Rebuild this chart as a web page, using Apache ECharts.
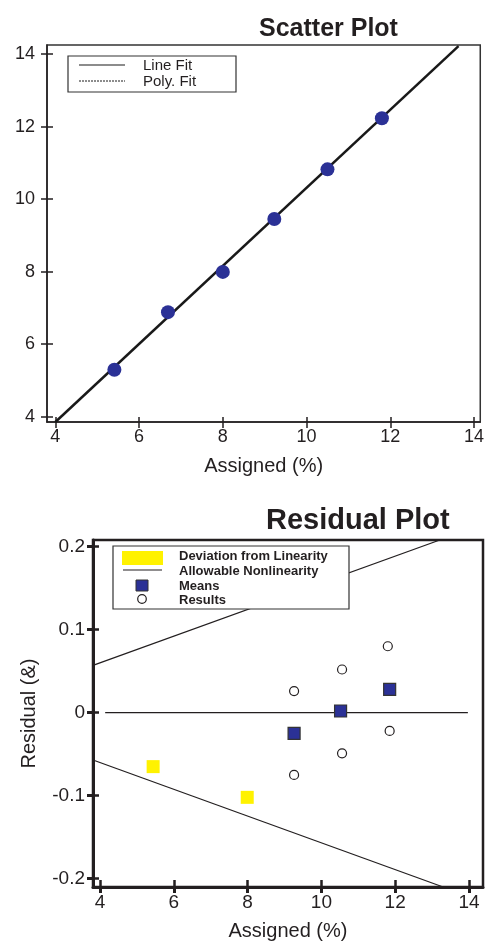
<!DOCTYPE html>
<html>
<head>
<meta charset="utf-8">
<script src="https://cdn.jsdelivr.net/npm/echarts@6/dist/echarts.min.js"></script>
<style>
  html, body { margin: 0; padding: 0; background: #fff; }
  #chart { width: 487px; height: 943px; }
</style>
</head>
<body>
<div id="chart"></div>
<script>
// scatter plot data
var assigned = [5.41, 6.69, 8.0, 9.23, 10.5, 11.8];
var measured = [5.29, 6.88, 7.99, 9.45, 10.82, 12.23];
var lineFitX = [4.0, 13.63];
var lineFitY = [3.85, 14.22];
var polyFitX = [4.0, 13.63];
var polyFitY = [3.85, 14.22];
var scatterTicks = [4, 6, 8, 10, 12, 14];

// residual plot data
var devX = [5.44, 7.99];
var devY = [-0.065, -0.102];
var meanX = [9.26, 10.52, 11.85];
var meanY = [-0.025, 0.002, 0.028];
var resultX = [9.26, 9.26, 10.56, 10.56, 11.8, 11.85];
var resultY = [0.026, -0.075, 0.052, -0.049, 0.080, -0.022];
var upperX = [3.81, 13.21];
var upperY = [0.057, 0.208];
var lowerX = [3.81, 13.3];
var lowerY = [-0.057, -0.21];
var zeroX = [4.14, 13.97];
var zeroY = [0, 0];
var residualXTicks = [4, 6, 8, 10, 12, 14];
var residualYTicks = [-0.2, -0.1, 0, 0.1, 0.2];

var ink = '#231f20';
var font = 'Liberation Sans, Arial, sans-serif';

function pairs(xs, ys) {
    return xs.map(function (x, i) { return [x, ys[i]]; });
}

// main axis with labels + outward ticks
function mainAxis(grid, min, max, ticks, lineWidth, fontSize, margin, fmt) {
    return {
        type: 'value', gridIndex: grid, min: min, max: max,
        splitLine: { show: false },
        axisLine: { show: true, onZero: false, lineStyle: { color: ink, width: lineWidth } },
        axisTick: { show: true, length: 6, customValues: ticks, lineStyle: { color: ink, width: lineWidth } },
        axisLabel: { show: true, customValues: ticks, color: ink, fontSize: fontSize, fontFamily: font, margin: margin,
            formatter: fmt || function (v) { return String(v); } }
    };
}
// ghost axis that only draws the inner half of the ticks
function innerTicks(grid, pos, min, max, ticks, lineWidth, len) {
    return {
        type: 'value', gridIndex: grid, position: pos, min: min, max: max,
        splitLine: { show: false },
        axisLine: { show: false, onZero: false },
        axisTick: { show: true, inside: true, length: len, customValues: ticks, lineStyle: { color: ink, width: lineWidth } },
        axisLabel: { show: false }
    };
}

var option = {
    backgroundColor: '#fff',
    animation: false,
    title: [
        { text: 'Scatter Plot', left: 254, top: 12,
          textStyle: { fontFamily: font, fontSize: 25, fontWeight: 'bold', color: ink } },
        { text: 'Residual Plot', left: 261, top: 501,
          textStyle: { fontFamily: font, fontSize: 29, fontWeight: 'bold', color: ink } }
    ],
    grid: [
        { left: 47, top: 45, width: 437, height: 377, show: true, borderColor: '#333', borderWidth: 1.5, backgroundColor: 'transparent' },
        { left: 93, top: 540, width: 390, height: 347, show: true, borderColor: ink, borderWidth: 2.5, backgroundColor: 'transparent' }
    ],
    xAxis: [
        Object.assign(mainAxis(0, 3.8, 14.15, scatterTicks, 1.5, 18, 6), {
            position: 'bottom', name: 'Assigned (%)', nameLocation: 'middle', nameGap: 34,
            nameTextStyle: { fontFamily: font, fontSize: 20, color: ink } }),
        innerTicks(0, 'bottom', 3.8, 14.15, scatterTicks, 1.5, 5),
        Object.assign(mainAxis(1, 3.81, 14.38, residualXTicks, 3, 19, 6), {
            position: 'bottom', name: 'Assigned (%)', nameLocation: 'middle', nameGap: 34,
            nameTextStyle: { fontFamily: font, fontSize: 20, color: ink } }),
        innerTicks(1, 'bottom', 3.81, 14.38, residualXTicks, 2.5, 7)
    ],
    yAxis: [
        Object.assign(mainAxis(0, 3.85, 14.25, scatterTicks, 1.5, 18, 12), { position: 'left' }),
        innerTicks(0, 'left', 3.85, 14.25, scatterTicks, 1.5, 6),
        Object.assign(mainAxis(1, -0.21, 0.208, residualYTicks, 3, 19, 8, function (v) {
            return String(Math.round(v * 10) / 10);
        }), {
            position: 'left', name: 'Residual (&)', nameLocation: 'middle', nameGap: 54, nameRotate: 90,
            nameTextStyle: { fontFamily: font, fontSize: 20, color: ink } }),
        innerTicks(1, 'left', -0.21, 0.208, residualYTicks, 2.5, 6)
    ],
    series: [
        { name: 'Line Fit', type: 'line', xAxisIndex: 0, yAxisIndex: 0, data: pairs(lineFitX, lineFitY),
          symbol: 'none', lineStyle: { color: '#1a1a1a', width: 2.5 }, z: 2 },
        { name: 'Poly. Fit', type: 'line', xAxisIndex: 0, yAxisIndex: 0, data: pairs(polyFitX, polyFitY),
          symbol: 'none', lineStyle: { color: '#1a1a1a', width: 1, type: [2, 1] }, z: 2 },
        { name: 'Data', type: 'scatter', xAxisIndex: 0, yAxisIndex: 0, data: pairs(assigned, measured),
          symbol: 'circle', symbolSize: 14, itemStyle: { color: '#2b3196', opacity: 1 }, z: 3 },

        { name: 'Allowable Nonlinearity', type: 'line', xAxisIndex: 2, yAxisIndex: 2, data: pairs(upperX, upperY),
          symbol: 'none', lineStyle: { color: ink, width: 1.3 } },
        { name: 'Allowable Lower', type: 'line', xAxisIndex: 2, yAxisIndex: 2, data: pairs(lowerX, lowerY),
          symbol: 'none', lineStyle: { color: ink, width: 1.3 } },
        { name: 'Zero', type: 'line', xAxisIndex: 2, yAxisIndex: 2, data: pairs(zeroX, zeroY),
          symbol: 'none', lineStyle: { color: ink, width: 1.3 } },
        { name: 'Deviation from Linearity', type: 'scatter', xAxisIndex: 2, yAxisIndex: 2, data: pairs(devX, devY),
          symbol: 'rect', symbolSize: 13, itemStyle: { color: '#fff200', opacity: 1 } },
        { name: 'Means', type: 'scatter', xAxisIndex: 2, yAxisIndex: 2, data: pairs(meanX, meanY),
          symbol: 'rect', symbolSize: 12, itemStyle: { color: '#2b3196', borderColor: '#333', borderWidth: 1.2, opacity: 1 }, z: 4 },
        { name: 'Results', type: 'scatter', xAxisIndex: 2, yAxisIndex: 2, data: pairs(resultX, resultY),
          symbol: 'circle', symbolSize: 9, itemStyle: { color: '#fff', borderColor: ink, borderWidth: 1.2, opacity: 1 }, z: 4 }
    ],
    graphic: [
        // scatter plot legend
        { type: 'rect', shape: { x: 68, y: 56, width: 168, height: 36 }, style: { fill: '#fff', stroke: '#333', lineWidth: 1.2 }, z: 10 },
        { type: 'line', shape: { x1: 79, y1: 65, x2: 125, y2: 65 }, style: { stroke: '#1a1a1a', lineWidth: 1.2 }, z: 11 },
        { type: 'line', shape: { x1: 79, y1: 81, x2: 125, y2: 81 }, style: { stroke: '#1a1a1a', lineWidth: 1, lineDash: [2, 1] }, z: 11 },
        { type: 'text', x: 143, y: 66, style: { text: 'Line Fit', fill: ink, font: '15px ' + font, textVerticalAlign: 'middle' }, z: 11 },
        { type: 'text', x: 143, y: 82, style: { text: 'Poly. Fit', fill: ink, font: '15px ' + font, textVerticalAlign: 'middle' }, z: 11 },

        // residual plot legend
        { type: 'rect', shape: { x: 113, y: 546, width: 236, height: 63 }, style: { fill: '#fff', stroke: '#333', lineWidth: 1.2 }, z: 10 },
        { type: 'rect', shape: { x: 122, y: 551, width: 41, height: 14 }, style: { fill: '#fff200' }, z: 11 },
        { type: 'line', shape: { x1: 123, y1: 570, x2: 162, y2: 570 }, style: { stroke: ink, lineWidth: 1.2 }, z: 11 },
        { type: 'rect', shape: { x: 136, y: 580, width: 12, height: 11 }, style: { fill: '#2b3196', stroke: '#333', lineWidth: 1 }, z: 11 },
        { type: 'circle', shape: { cx: 142, cy: 599, r: 4.3 }, style: { fill: '#fff', stroke: ink, lineWidth: 1.2 }, z: 11 },
        { type: 'text', x: 179, y: 556, style: { text: 'Deviation from Linearity', fill: ink, font: 'bold 13px ' + font, textVerticalAlign: 'middle' }, z: 11 },
        { type: 'text', x: 179, y: 571, style: { text: 'Allowable Nonlinearity', fill: ink, font: 'bold 13px ' + font, textVerticalAlign: 'middle' }, z: 11 },
        { type: 'text', x: 179, y: 586, style: { text: 'Means', fill: ink, font: 'bold 13px ' + font, textVerticalAlign: 'middle' }, z: 11 },
        { type: 'text', x: 179, y: 600, style: { text: 'Results', fill: ink, font: 'bold 13px ' + font, textVerticalAlign: 'middle' }, z: 11 }
    ]
};

var chart = echarts.init(document.getElementById('chart'));
chart.setOption(option);
</script>
</body>
</html>
